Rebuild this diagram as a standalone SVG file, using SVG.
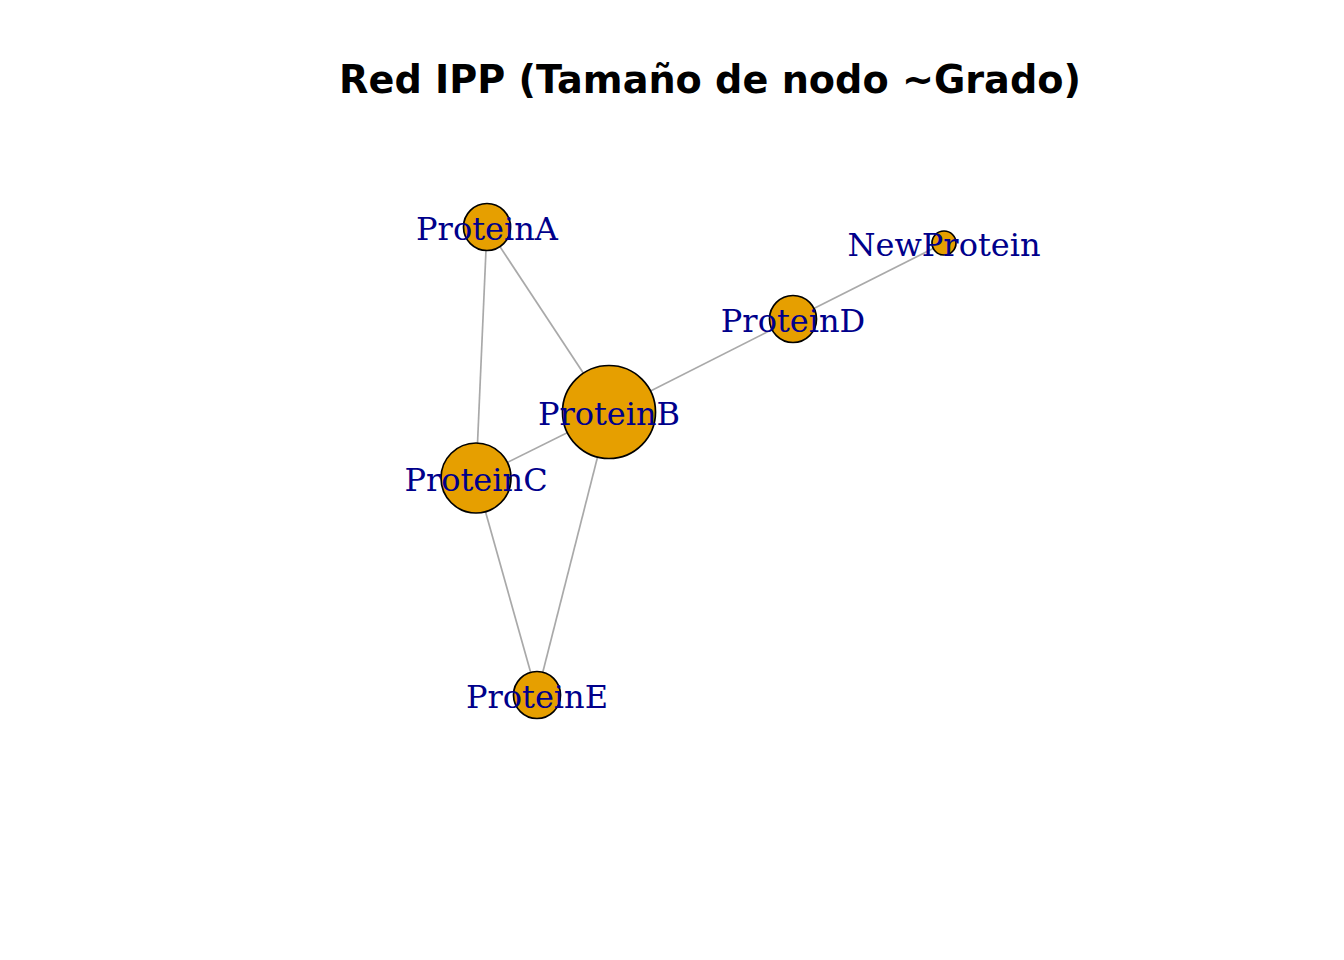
<svg xmlns="http://www.w3.org/2000/svg" width="1344" height="960" viewBox="0 0 1344 960">
<style>
.title{font-family:"DejaVu Sans",sans-serif;font-weight:bold;font-size:38.2px;fill:#000;text-anchor:middle}
.edge{stroke:#A9A9A9;stroke-width:1.7;fill:none}
.node circle{fill:#E69F00;stroke:#000;stroke-width:1.7}
.node text{font-family:"DejaVu Serif",serif;font-size:32px;fill:#00008B;text-anchor:middle}
</style>
<rect width="1344" height="960" fill="#fff"/>
<text class="title" x="710" y="93">Red IPP (Tamaño de nodo ~Grado)</text>
<g id="edges">
<line class="edge" x1="487" y1="227" x2="609" y2="412"/>
<line class="edge" x1="487" y1="227" x2="476" y2="478"/>
<line class="edge" x1="609" y1="412" x2="476" y2="478"/>
<line class="edge" x1="609" y1="412" x2="793" y2="319"/>
<line class="edge" x1="609" y1="412" x2="537" y2="695"/>
<line class="edge" x1="476" y1="478" x2="537" y2="695"/>
<line class="edge" x1="793" y1="319" x2="944" y2="243"/>
</g>
<g id="ProteinA" class="node"><circle cx="487" cy="227" r="23.5"/><text x="487" y="240">ProteinA</text></g>
<g id="ProteinB" class="node"><circle cx="609" cy="412" r="46.5"/><text x="609" y="425">ProteinB</text></g>
<g id="ProteinC" class="node"><circle cx="476" cy="478" r="35"/><text x="476" y="491">ProteinC</text></g>
<g id="ProteinD" class="node"><circle cx="793" cy="319" r="23.5"/><text x="793" y="332">ProteinD</text></g>
<g id="ProteinE" class="node"><circle cx="537" cy="695" r="23.5"/><text x="537" y="708">ProteinE</text></g>
<g id="NewProtein" class="node"><circle cx="944" cy="243" r="12"/><text x="944" y="256">NewProtein</text></g>
</svg>
